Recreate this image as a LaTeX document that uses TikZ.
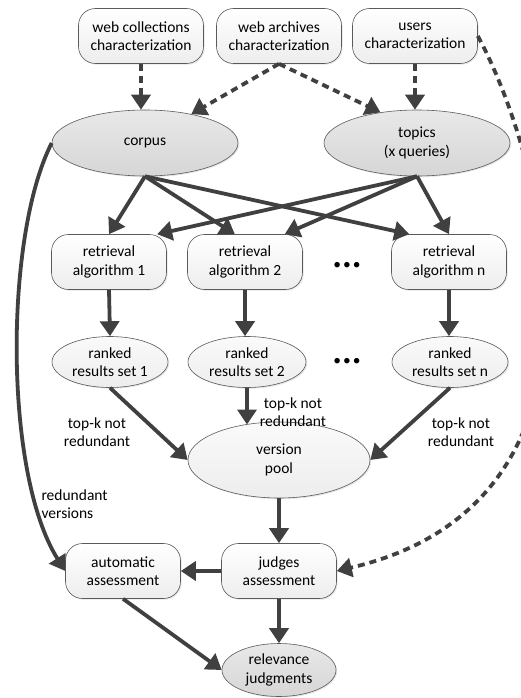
\documentclass[tikz,border=0pt]{standalone}
\usepackage{fontspec}
\setmainfont{Carlito}
\usetikzlibrary{arrows.meta,shapes.geometric,shadows}
\definecolor{arrowgray}{HTML}{404040}
\definecolor{linegray}{HTML}{5A5A5A}
\begin{document}
\begin{tikzpicture}[x=1pt,y=-1pt,
    every node/.style={font=\fontsize{15.5}{18.5}\selectfont, align=center},
    box/.style={draw=linegray, line width=0.6pt, rounded corners=17pt,
      minimum width=115pt, minimum height=55pt, inner sep=0pt,
      top color=white, bottom color=gray!14,
      drop shadow={shadow xshift=1.2pt, shadow yshift=-1.2pt, opacity=0.2}},
    topbox/.style={box, minimum width=125pt},
    lightell/.style={ellipse, draw=linegray, line width=0.6pt, inner sep=0pt,
      top color=gray!4, bottom color=gray!14,
      drop shadow={shadow xshift=1.2pt, shadow yshift=-1.2pt, opacity=0.2}},
    darkell/.style={lightell, top color=gray!18, bottom color=gray!32},
    flow/.style={draw=arrowgray, line width=3.8pt, -{Triangle[length=15pt,width=19pt]}},
    dashflow/.style={flow, dash pattern=on 7pt off 5pt}]
    \useasboundingbox (0,0) rectangle (520,698);

    \node[topbox] (webcoll) at (141,36) {web collections\\characterization};
    \node[topbox] (webarch) at (279,36) {web archives\\characterization};
    \node[topbox] (users) at (415,36) {users\\characterization};

    \node[darkell, minimum width=186pt, minimum height=66pt] (corpus) at (145,143) {corpus};
    \node[darkell, minimum width=186pt, minimum height=66pt] (topics) at (417,143) {topics\\(x queries)};

    \node[box] (alg1) at (109,262) {retrieval\\algorithm 1};
    \node[box] (alg2) at (245,262) {retrieval\\algorithm 2};
    \node[box] (algn) at (449,262) {retrieval\\algorithm n};
    \node (algdots) at (347,266) {\textbullet\hspace{2pt}\textbullet\hspace{2pt}\textbullet};

    \node[lightell, minimum width=116pt, minimum height=51pt] (res1) at (110,362) {ranked\\results set 1};
    \node[lightell, minimum width=118pt, minimum height=51pt] (res2) at (247,362) {ranked\\results set 2};
    \node[lightell, minimum width=116pt, minimum height=51pt] (resn) at (450,362) {ranked\\results set n};
    \node (resdots) at (347,362) {\textbullet\hspace{2pt}\textbullet\hspace{2pt}\textbullet};

    \node[lightell, minimum width=182pt, minimum height=76pt] (pool) at (279,460) {version\\pool};

    \node[box] (auto) at (123,571) {automatic\\assessment};
    \node[box] (judges) at (279,571) {judges\\assessment};
    \node[darkell, minimum width=114pt, minimum height=53pt] (relevance) at (279,670) {relevance\\judgments};

    \node (lab1) at (97,432) {top-k not\\redundant};
    \node (lab2) at (293,412) {top-k not\\redundant};
    \node (labn) at (461,432) {top-k not\\redundant};
    \node[align=left, anchor=west] (labred) at (38,504) {redundant\\versions};

    \draw[dashflow] (webcoll.south) -- (webcoll.south |- corpus.north);
    \draw[dashflow] (webarch.south) -- (corpus.32);
    \draw[dashflow] (webarch.south) -- (topics.140);
    \draw[dashflow] (users.south) -- (users.south |- topics.north);
    \draw[dashflow] (users.east) .. controls (540,150) and (640,500) .. (judges.east);

    \draw[flow] (corpus.south) -- (alg1.north);
    \draw[flow] (corpus.south) -- (alg2.110);
    \draw[flow] (corpus.south) -- (algn.145);
    \draw[flow] (topics.south) -- (alg1.30);
    \draw[flow] (topics.south) -- (alg2.35);
    \draw[flow] (topics.south) -- (algn.north);

    \draw[flow] (alg1.south) -- (res1.north);
    \draw[flow] (alg2.south) -- (alg2.south |- res2.north);
    \draw[flow] (algn.south) -- (algn.south |- resn.north);

    \draw[flow] (res1.south) -- (pool.west);
    \draw[flow] (res2.south) -- (res2.south |- pool.134);
    \draw[flow] (resn.south) -- (pool.east);

    \draw[flow] (corpus.west) .. controls (4.5,235.5) and (3.5,473) .. (auto.west);
    \draw[flow] (pool.south) -- (judges.north);
    \draw[flow] (judges.west) -- (auto.east);
    \draw[flow] (judges.south) -- (relevance.north);
    \draw[flow] (auto.south) -- (relevance.west);
  \end{tikzpicture}
\end{document}
